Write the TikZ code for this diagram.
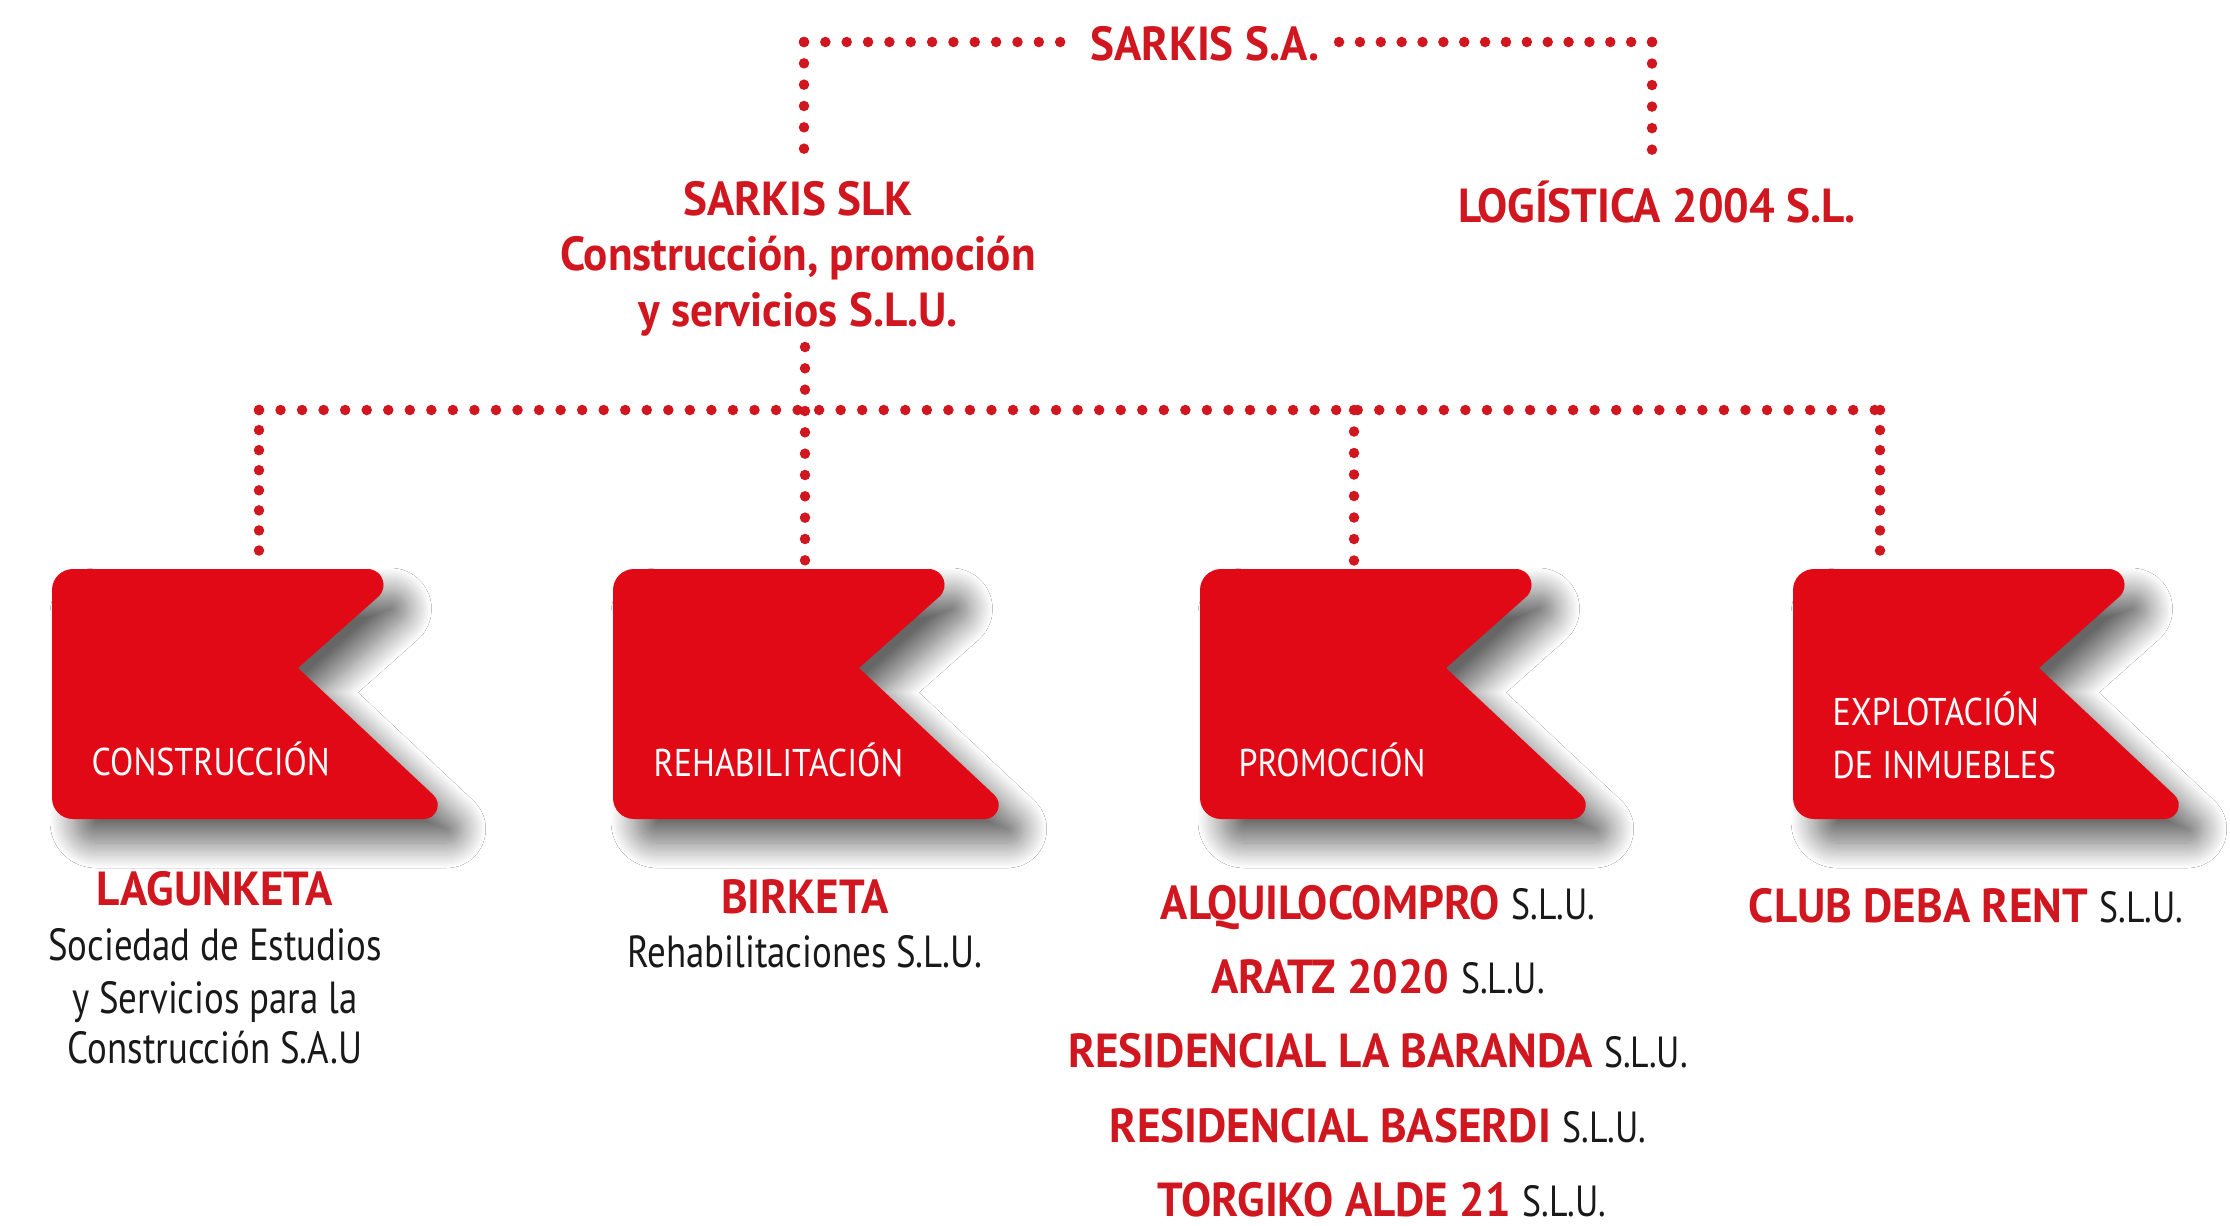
\documentclass[tikz,border=0pt]{standalone}
\usepackage{fontspec}
\setmainfont{PT Sans}
\newfontfamily\cf[FakeStretch=0.88]{PT Sans}
\newfontfamily\cfb[FakeStretch=0.945]{PT Sans}
\newfontfamily\lf[FakeStretch=0.82]{PT Sans}
\usetikzlibrary{calc,shadows.blur}
\definecolor{sred}{RGB}{208,22,30}
\definecolor{bred}{RGB}{226,9,22}
\definecolor{sblack}{RGB}{25,25,25}
\newcommand\slu{{\color{sblack}\lf\mdseries\fontsize{12.4}{15}\selectfont S.L.U.}}
\tikzset{
 dotl/.style={draw=sred, line width=1.05mm, line cap=round},
 redtxt/.style={text=sred, font=\cfb\bfseries\fontsize{13.6}{16}\selectfont, inner sep=0pt, anchor=base},
 blktxt/.style={text=sblack, font=\lf\fontsize{12.8}{15}\selectfont, inner sep=0pt, anchor=base},
 boxtxt/.style={text=white, font=\cf\fontsize{11}{13}\selectfont, inner sep=0pt, anchor=base west},
 flagfill/.style={fill=bred, blur shadow={shadow xshift=2.3mm, shadow yshift=-2.4mm, shadow blur radius=2.5mm, shadow opacity=60, shadow blur steps=24}},
}
\newcommand\dotconn[2]{%
 \path let \p1=($(#2)-(#1)$) in \pgfextra{\pgfmathsetmacro\dlen{veclen(\x1,\y1)}\xdef\dlenG{\dlen}};
 \pgfmathsetmacro\dn{max(1,round(\dlenG/6.12))}%
 \pgfmathsetmacro\dgap{\dlenG/\dn-0.02}%
 \draw[dotl, dash pattern=on 0pt off \dgap pt] (#1) -- (#2);}
\newcommand\flagshape[1]{%
 \fill[flagfill, shift={(#1,569)}] (0,21) -- (0,229) .. controls (0,240.6) and (9.4,250) .. (21,250) -- (371.7,250) .. controls (384.4,250) and (390.6,234.6) .. (381.3,225.9) -- (246,99) -- (326,28) .. controls (337.2,18.2) and (330.4,0) .. (315.5,0) -- (21,0) .. controls (9.4,0) and (0,9.4) .. (0,21) -- cycle;}
\begin{document}
\begin{tikzpicture}[x=0.1mm,y=-0.1mm]
\useasboundingbox[fill=white] (0,0) rectangle (2230,1225);
% boxes
\flagshape{52}
\flagshape{613}
\flagshape{1200}
\flagshape{1793}
% texts
\node[redtxt] (sa) at (1205,60) {SARKIS S.A.};
\node[redtxt] (slk1) at (798,215) {SARKIS SLK};
\node[redtxt] (slk2) at (798,270) {Construcción, promoción};
\node[redtxt] (slk3) at (798,326) {y servicios S.L.U.};
\node[redtxt] (lg) at (1657,222) {LOGÍSTICA 2004 S.L.};
\node[boxtxt] (b1) at (91,775) {CONSTRUCCIÓN};
\node[boxtxt] (b2) at (653,776) {REHABILITACIÓN};
\node[boxtxt] (b3) at (1238,776) {PROMOCIÓN};
\node[boxtxt] (b4a) at (1832,725) {EXPLOTACIÓN};
\node[boxtxt] (b4b) at (1832,778) {DE INMUEBLES};
\node[redtxt] (lag) at (215,905) {LAGUNKETA};
\node[blktxt] (lag1) at (215,960) {Sociedad de Estudios};
\node[blktxt] (lag2) at (215,1013) {y Servicios para la};
\node[blktxt] (lag3) at (215,1063) {Construcción S.A.U};
\node[redtxt] (bir) at (805,913) {BIRKETA};
\node[blktxt] (bir1) at (805,967) {Rehabilitaciones S.L.U.};
\node[redtxt] (p1) at (1378,919) {ALQUILOCOMPRO \slu};
\node[redtxt] (p2) at (1378,993) {ARATZ 2020 \slu};
\node[redtxt] (p3) at (1378,1067) {RESIDENCIAL LA BARANDA \slu};
\node[redtxt] (p4) at (1378,1142) {RESIDENCIAL BASERDI \slu};
\node[redtxt] (p5) at (1382,1216) {TORGIKO ALDE 21 \slu};
\node[redtxt] (club) at (1966,922) {CLUB DEBA RENT \slu};
% connector points
\coordinate (tl) at (804,42);
\coordinate (tr) at (1652,42);
\coordinate (saW) at (1061,42);
\coordinate (saE) at (1338,42);
\coordinate (slkT) at (804,149);
\coordinate (lgT) at (1652,150);
\coordinate (slkB) at (805,347);
\coordinate (rowL) at (259,410);
\coordinate (rowR) at (1880,410);
\coordinate (j3) at (1354,410);
\coordinate (t1) at (259,551);
\coordinate (t2) at (805,561);
\coordinate (t3) at (1354,561);
\coordinate (t4) at (1880,551);
\dotconn{tl}{saW}
\dotconn{tr}{saE}
\dotconn{tl}{slkT}
\dotconn{tr}{lgT}
\dotconn{slkB}{t2}
\dotconn{rowL}{rowR}
\dotconn{rowL}{t1}
\dotconn{j3}{t3}
\dotconn{rowR}{t4}
\end{tikzpicture}
\end{document}
